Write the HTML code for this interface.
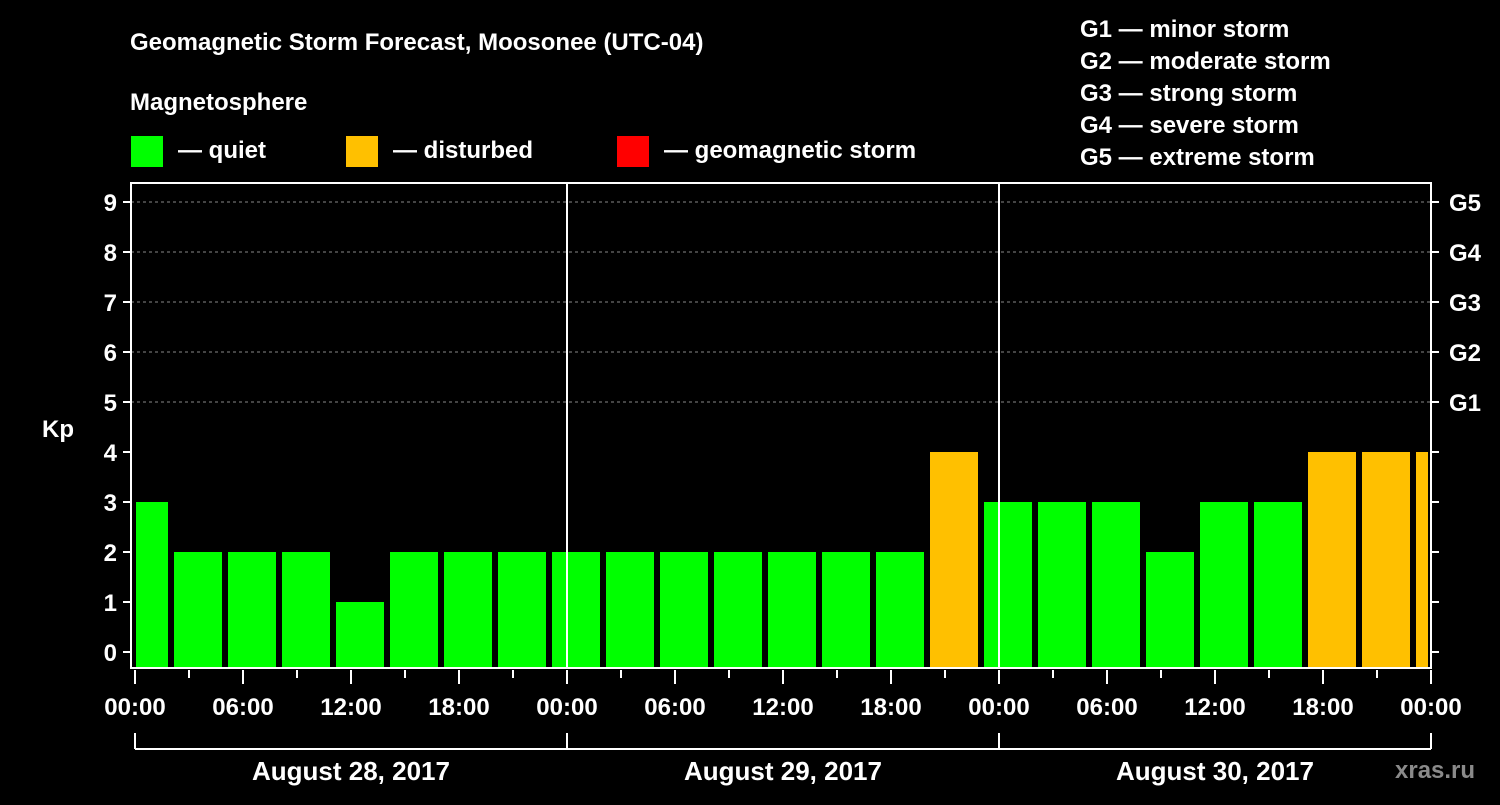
<!DOCTYPE html>
<html><head><meta charset="utf-8"><style>
body{margin:0;background:#000;width:1500px;height:800px;overflow:hidden}
text{font-family:"Liberation Sans",sans-serif;font-weight:bold;fill:#fff}
</style></head><body>
<svg id="c" width="1500" height="800">
<text x="130" y="50" font-size="24">Geomagnetic Storm Forecast, Moosonee (UTC-04)</text>
<text x="130" y="110" font-size="24">Magnetosphere</text>
<rect x="131" y="136" width="32" height="31" fill="#00ff00"/>
<text x="178" y="158" font-size="24">— quiet</text>
<rect x="346" y="136" width="32" height="31" fill="#ffc000"/>
<text x="393" y="158" font-size="24">— disturbed</text>
<rect x="617" y="136" width="32" height="31" fill="#ff0000"/>
<text x="664" y="158" font-size="24">— geomagnetic storm</text>
<g font-size="24">
<text x="1080" y="37">G1 — minor storm</text>
<text x="1080" y="69">G2 — moderate storm</text>
<text x="1080" y="101">G3 — strong storm</text>
<text x="1080" y="133">G4 — severe storm</text>
<text x="1080" y="165">G5 — extreme storm</text>
</g>
<text x="42" y="437" font-size="24">Kp</text>
<text x="1395" y="778" font-size="24" fill="#888" style="fill:#8a8a8a">xras.ru</text>
<g id="g"></g>
</svg>
<script>
const kpValues=[3,2,2,2,1,2,2,2,2,2,2,2,2,2,2,4,3,3,3,2,3,3,4,4,4];
const dayLabels=["August 28, 2017","August 29, 2017","August 30, 2017"];
const hourLabels=["00:00","06:00","12:00","18:00"];
const gLabels=["G1","G2","G3","G4","G5"];
const NS="http://www.w3.org/2000/svg";
const g=document.getElementById('g');
const X0=135,PX_H=18,L=131,R=1431,T=183,B=668;
const xs=h=>X0+h*PX_H;
const ys=v=>652-v*50;
function mk(t,a,p){const e=document.createElementNS(NS,t);for(const k in a)e.setAttribute(k,a[k]);(p||g).appendChild(e);return e;}
// grid
for(let k=5;k<=9;k++){
 const e=mk('line',{x1:L,x2:R,y1:ys(k),y2:ys(k),stroke:'#888','stroke-dasharray':'3,3','stroke-width':1});
 
 
}
// bars: first bar starts at 00:00 partial, boundaries at 02:00 + 3h
kpValues.forEach((v,i)=>{
 let s=i==0?-1:2+(i-1)*3, e=s+3;
 let x1=Math.max(xs(s)+3,X0+1), x2=Math.min(xs(e)-3,R-3);
 const r=mk('rect',{x:x1,y:ys(v),width:x2-x1,height:B-ys(v),fill:v>=5?'#ff0000':v>=4?'#ffc000':'#00ff00'});
 
 
});
// day separators
[1,2].forEach(d=>{const e=mk('line',{x1:xs(d*24),x2:xs(d*24),y1:T,y2:B,stroke:'#fff','stroke-width':2});
 
 });
// frame
const f=mk('rect',{x:L,y:T,width:R-L,height:B-T,fill:'none',stroke:'#fff','stroke-width':2});


// y ticks
for(let k=0;k<=9;k++){
 mk('line',{x1:123,x2:L,y1:ys(k),y2:ys(k),stroke:'#fff','stroke-width':2});
 mk('line',{x1:R,x2:R+8,y1:ys(k),y2:ys(k),stroke:'#fff','stroke-width':2});
 const t=mk('text',{x:117,y:ys(k)+9,'font-size':24,'text-anchor':'end'});t.textContent=k;
 
 
}
gLabels.forEach((s,i)=>{const t=mk('text',{x:1449,y:ys(5+i)+9,'font-size':24});t.textContent=s;
 
 });
// x ticks
for(let h=0;h<=72;h+=3){
 const long=h%6==0;
 mk('line',{x1:xs(h),x2:xs(h),y1:B+2,y2:B+(long?16:10),stroke:'#fff','stroke-width':2});
 if(long){const t=mk('text',{x:xs(h),y:715,'font-size':24,'text-anchor':'middle'});t.textContent=hourLabels[(h/6)%4];
 
 }
}
// day brackets
mk('line',{x1:xs(0),x2:xs(72),y1:749,y2:749,stroke:'#fff','stroke-width':2});
for(let d=0;d<=3;d++)mk('line',{x1:xs(d*24),x2:xs(d*24),y1:733,y2:749,stroke:'#fff','stroke-width':2});
dayLabels.forEach((s,d)=>{const t=mk('text',{x:xs(d*24+12),y:780,'font-size':26,'text-anchor':'middle'});t.textContent=s;
 
 });
</script>
</body></html>
